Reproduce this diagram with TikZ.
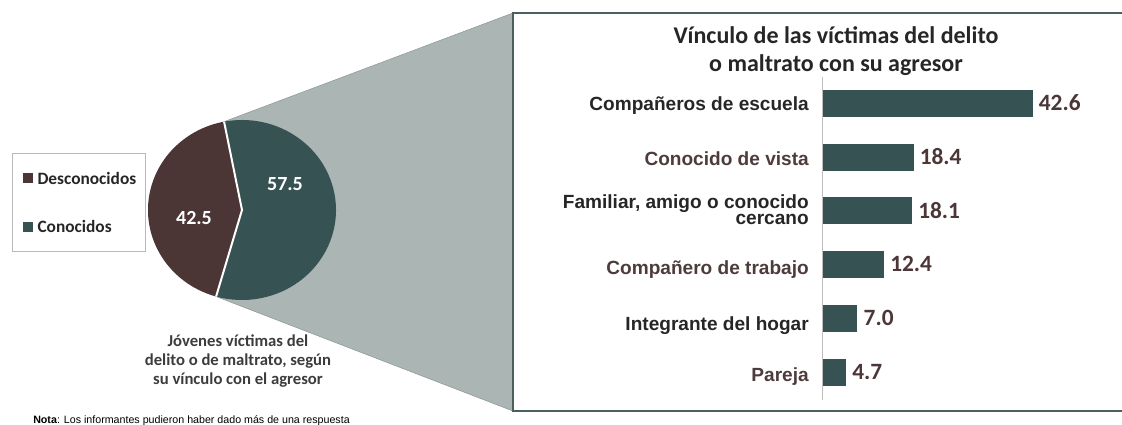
\documentclass[tikz,border=0pt]{standalone}
\usepackage{fontspec}
\setmainfont{Carlito}
\newfontfamily\arialfont{Liberation Sans}
\usetikzlibrary{positioning}

\definecolor{piebrown}{RGB}{75,53,53}
\definecolor{pieteal}{RGB}{55,82,82}
\definecolor{funnelgray}{RGB}{170,181,180}
\definecolor{funneledge}{RGB}{140,152,151}
\definecolor{boxedge}{RGB}{75,95,95}
\definecolor{axisgray}{RGB}{190,190,190}
\definecolor{labdark}{RGB}{38,38,38}
\definecolor{labbrown}{RGB}{78,60,60}
\definecolor{valbrown}{RGB}{75,55,55}
\definecolor{legframe}{RGB}{185,185,185}

\tikzset{
  bar/.style={fill=pieteal, minimum height=20.25pt, inner sep=0pt, outer sep=0pt, anchor=west},
  catlab/.style={font=\arialfont\bfseries\fontsize{14.3}{10.5}\selectfont, inner sep=0pt, anchor=base east},
  vallab/.style={font=\bfseries\fontsize{17.5}{20}\selectfont, text=valbrown, inner sep=0pt},
  pielab/.style={font=\bfseries\fontsize{15}{18}\selectfont, text=white, inner sep=0pt},
  legsq/.style={minimum width=7.5pt, minimum height=7.5pt, inner sep=0pt},
  legtext/.style={font=\bfseries\fontsize{13}{15}\selectfont, text=labdark, inner sep=0pt},
  titlelab/.style={font=\bfseries\fontsize{18}{21}\selectfont, text=labdark, inner sep=0pt, anchor=base},
}

\begin{document}
\begin{tikzpicture}[x=0.75pt,y=-0.75pt]
  \useasboundingbox (0,0) rectangle (1122,425);
  \fill[white] (0,0) rectangle (1122,425);
  % pie points
  \coordinate (pc) at (242,210);
  \path (pc) ++(101:70.5pt and 67.5pt) coordinate (ptop);
  \path (pc) ++(-106:70.5pt and 67.5pt) coordinate (pbot);
  % zoom funnel
  \filldraw[fill=funnelgray, draw=funneledge, line width=0.4pt]
    (ptop) -- (513,13) -- (513,411) -- (pbot) -- cycle;
  % pie slices
  \fill[pieteal] (ptop) arc[start angle=101, end angle=-106, x radius=70.5pt, y radius=67.5pt] -- (pc) -- cycle;
  \fill[piebrown] (pbot) arc[start angle=-106, end angle=-259, x radius=70.5pt, y radius=67.5pt] -- (pc) -- cycle;
  \draw[white, line width=1.5pt] (ptop) -- (pc) -- (pbot);
  \node[pielab] (p575) at (285,184) {57.5};
  \node[pielab] (p425) at (194,218) {42.5};
  % legend
  \draw[legframe, line width=0.75pt] (12,153) rectangle (145,251);
  \node[legsq, fill=piebrown] (sq1) at (28,178) {};
  \node[legtext, right=3pt of sq1] (leg1) {Desconocidos};
  \node[legsq, fill=pieteal] (sq2) at (28,226.5) {};
  \node[legtext, right=3pt of sq2] (leg2) {Conocidos};
  % caption under the pie
  \node[font=\bfseries\fontsize{12.5}{14.25}\selectfont, text=labdark!90, align=center,
        inner sep=0pt, anchor=north] (pcap) at (238,334.5)
        {Jóvenes víctimas del\\delito o de maltrato, según\\su vínculo con el agresor};
  % note
  \node[font=\arialfont\fontsize{8}{10}\selectfont, inner sep=0pt, anchor=base west] (nota)
        at (33,423) {\textbf{Nota}: Los informantes pudieron haber dado más de una respuesta};
  % chart box
  \draw[boxedge, line width=2pt, fill=white] (513,13) rectangle (1140,411);
  \node[titlelab] (tit1) at (836,43) {Vínculo de las víctimas del delito};
  \node[titlelab] (tit2) at (836,71) {o maltrato con su agresor};
  % axis
  \coordinate (axtop) at (822.5,77);
  \coordinate (axbot) at (822.5,400);
  \draw[axisgray, line width=0.75pt] (axtop) -- (axbot);
  % bars
  \node[bar, minimum width=42.6*3.69pt] (b1) at (823,103) {};
  \node[bar, minimum width=18.4*3.69pt] (b2) at (823,157) {};
  \node[bar, minimum width=18.1*3.69pt] (b3) at (823,210.5) {};
  \node[bar, minimum width=12.4*3.69pt] (b4) at (823,264.4) {};
  \node[bar, minimum width=7.0*3.69pt] (b5) at (823,318.3) {};
  \node[bar, minimum width=4.7*3.69pt] (b6) at (823,372) {};
  % values
  \node[vallab, right=4.5pt of b1] (v1) {42.6};
  \node[vallab, right=4.5pt of b2] (v2) {18.4};
  \node[vallab, right=4.5pt of b3] (v3) {18.1};
  \node[vallab, right=4.5pt of b4] (v4) {12.4};
  \node[vallab, right=4.5pt of b5] (v5) {7.0};
  \node[vallab, right=4.5pt of b6] (v6) {4.7};
  % categories
  \node[catlab, text=labdark] (c1) at (809,110) {Compañeros de escuela};
  \node[catlab, text=labbrown] (c2) at (809,165.5) {Conocido de vista};
  \node[catlab, text=labdark] (c3) at (809,208.5) {Familiar, amigo o conocido};
  \node[catlab, text=labdark] (c3b) at (809,224.5) {cercano};
  \node[catlab, text=labbrown] (c4) at (809,274.5) {Compañero de trabajo};
  \node[catlab, text=labdark] (c5) at (809,330) {Integrante del hogar};
  \node[catlab, text=labbrown] (c6) at (809,381.5) {Pareja};
\end{tikzpicture}
\end{document}
